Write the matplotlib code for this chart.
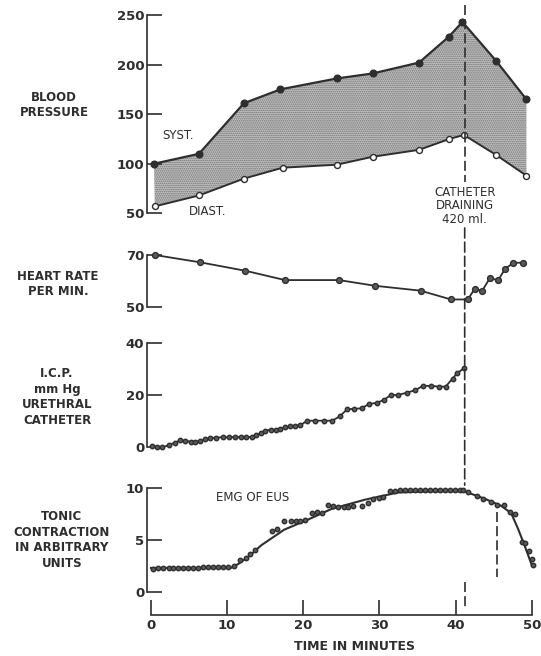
import numpy as np
import matplotlib
matplotlib.use("Agg")
import matplotlib.pyplot as plt
from matplotlib.patches import ConnectionPatch

# -------------------------------
# Data (time in minutes)
# -------------------------------
syst_t = [0.4, 6.3, 12.2, 17.0, 24.4, 29.1, 35.2, 39.1, 40.9, 45.3, 49.3]
syst_p = [100, 110, 161, 175, 186, 191, 202, 228, 243, 204, 165]
diast_t = [0.5, 6.3, 12.2, 17.3, 24.4, 29.1, 35.2, 39.2, 41.1, 45.3, 49.3]
diast_p = [57, 68, 85, 96, 99, 107, 114, 125, 129, 109, 88]

hr_t = [0.5, 6.4, 12.4, 17.6, 24.7, 29.4, 35.4, 39.4, 41.6, 42.5, 43.5,
        44.5, 45.6, 46.5, 47.6, 48.8]
hr_v = [70, 67.2, 63.9, 60.3, 60.3, 58.1, 56.2, 52.8, 52.8, 56.8, 56.2,
        61.0, 60.3, 64.6, 67.0, 67.0]

icp_t = [0.1, 0.75, 1.5, 2.3, 3.1, 3.8, 4.5, 5.2, 5.8, 6.5, 7.1, 7.8, 8.6,
         9.4, 10.2, 11.0, 11.8, 12.5, 13.2, 13.8, 14.4, 15.0, 15.7, 16.4,
         17.0, 17.6, 18.3, 18.9, 19.6, 20.5, 21.6, 22.7, 23.8, 24.8, 25.8,
         26.6, 27.7, 28.6, 29.7, 30.6, 31.5, 32.5, 33.6, 34.7, 35.7, 36.8,
         37.8, 38.7, 39.6, 40.2, 41.1]
icp_v = [0.3, 0.0, -0.3, 0.6, 1.5, 2.4, 2.3, 1.9, 1.8, 2.2, 2.8, 3.4, 3.5,
         3.6, 3.6, 3.7, 3.8, 3.6, 3.8, 4.4, 5.1, 6.2, 6.5, 6.6, 7.0, 7.4,
         7.8, 8.1, 8.2, 10.0, 10.0, 10.0, 10.0, 11.7, 14.5, 14.5, 14.8,
         16.4, 16.9, 18.0, 19.9, 19.9, 20.8, 21.7, 23.4, 23.4, 23.1, 23.1,
         26.2, 28.2, 30.2]

tonic_t = [0.3, 0.95, 1.6, 2.3, 2.9, 3.6, 4.2, 4.9, 5.5, 6.2, 6.8, 7.5, 8.1,
           8.8, 9.4, 10.1, 10.9, 11.7, 12.5, 13.0, 13.7, 15.9, 16.5, 17.5,
           18.4, 19.0, 19.6, 20.2, 21.2, 21.8, 22.4, 23.3, 23.9, 24.5, 25.3,
           25.9, 26.5, 27.7, 28.5, 29.2, 29.9, 30.5, 31.4, 32.0, 32.7, 33.4,
           34.0, 34.7, 35.3, 36.0, 36.6, 37.3, 38.0, 38.6, 39.3, 39.9, 40.6,
           41.0, 41.7, 42.8, 43.6, 44.7, 45.4, 46.3, 47.1, 47.8, 48.7, 49.1,
           49.6, 50.0, 50.2]
tonic_v = [2.2, 2.3, 2.3, 2.3, 2.3, 2.3, 2.3, 2.3, 2.3, 2.3, 2.4, 2.4, 2.4,
           2.4, 2.4, 2.4, 2.5, 3.1, 3.3, 3.6, 4.0, 5.9, 6.1, 6.8, 6.8, 6.8,
           6.8, 6.9, 7.6, 7.7, 7.6, 8.4, 8.3, 8.2, 8.2, 8.2, 8.3, 8.3, 8.6,
           9.0, 9.1, 9.2, 9.7, 9.7, 9.8, 9.8, 9.8, 9.8, 9.8, 9.8, 9.8, 9.8,
           9.8, 9.8, 9.8, 9.8, 9.8, 9.8, 9.6, 9.3, 9.0, 8.7, 8.4, 8.4, 7.7,
           7.5, 4.8, 4.7, 3.9, 3.2, 2.6]

# smooth trend drawn through the EMG points
trend_t = [0.0, 10.5, 11.5, 13.0, 14.5, 16.1, 17.5, 20.4, 23.7, 28.1, 32.5,
           36.9, 41.2, 43.8, 46.0, 47.3, 48.2, 49.1, 50.0]
trend_v = [2.3, 2.3, 2.7, 3.5, 4.5, 5.3, 6.0, 6.9, 8.0, 8.9, 9.6, 9.7, 9.7,
           9.0, 8.3, 7.6, 6.1, 4.4, 2.6]

drain_time = 41.2
second_mark = 45.5

# -------------------------------
# Style
# -------------------------------
INK = "#2e2e2e"
plt.rcParams["font.family"] = ["DejaVu Sans"]
plt.rcParams["hatch.linewidth"] = 0.8
plt.rcParams["hatch.color"] = "#6f6f6f"
TICK_FONT = dict(fontsize=9.5, fontweight="bold", color=INK)
DASH = (0, (6, 2.5))

W, H = 541, 656
fig = plt.figure(figsize=(W / 100, H / 100), dpi=100)


def px_axes(top, bottom):
    # axes box from pixel rows; x spans -0.5..50.5 minutes
    left, width = 147.2, 388.3
    return fig.add_axes([left / W, (H - bottom) / H, width / W, (bottom - top) / H])


def style(ax, yticks):
    for s in ["top", "right", "bottom"]:
        ax.spines[s].set_visible(False)
    ax.spines["left"].set_color(INK)
    ax.spines["left"].set_linewidth(1.2)
    ax.set_xlim(-0.5, 50.5)
    ax.set_xticks([])
    ax.set_yticks(yticks)
    ax.set_yticklabels([str(v) for v in yticks], **TICK_FONT)
    ax.tick_params(axis="y", direction="in", length=10.8, width=1.2,
                   color=INK, pad=2)
    ax.patch.set_alpha(0)


def left_label(x, y, text):
    fig.text(x / W, 1 - y / H, text, ha="center", va="center",
             fontsize=8.5, fontweight="bold", color=INK, linespacing=1.25)


# -------------------------------
# Blood pressure
# -------------------------------
ax_bp = px_axes(15, 213.3)
style(ax_bp, [50, 100, 150, 200, 250])
ax_bp.set_ylim(50, 250)
ax_bp.fill(np.concatenate([syst_t, diast_t[::-1]]),
           np.concatenate([syst_p, diast_p[::-1]]),
           facecolor="#c4c4c4", hatch="........", linewidth=0, zorder=1)
ax_bp.plot(syst_t, syst_p, "-o", color=INK, lw=1.6, ms=4.8,
           mfc=INK, mec=INK, clip_on=False, zorder=3)
ax_bp.plot(diast_t, diast_p, "-o", color=INK, lw=1.4, ms=4.3,
           mfc="white", mec=INK, mew=1.0, clip_on=False, zorder=3)
ax_bp.text(3.5, 128, "SYST.", fontsize=8.5, color=INK, ha="center", va="center")
ax_bp.text(7.4, 52, "DIAST.", fontsize=8.5, color=INK, ha="center", va="center")
ax_bp.text(drain_time, 78, "CATHETER\nDRAINING\n420 ml.", fontsize=8.5,
           color=INK, ha="center", va="top", linespacing=1.05)
ax_bp.plot([drain_time, drain_time], [260, 82], color=INK, lw=1.2,
           linestyle=DASH, clip_on=False, zorder=4)
left_label(54, 105, "BLOOD\nPRESSURE")

# -------------------------------
# Heart rate
# -------------------------------
ax_hr = px_axes(255, 306.7)
style(ax_hr, [50, 70])
ax_hr.set_ylim(50, 70)
ax_hr.plot(hr_t, hr_v, "-o", color=INK, lw=1.3, ms=4.2, mfc="#5a5a5a",
           mec=INK, clip_on=False, zorder=3)
left_label(58, 284, "HEART RATE\nPER MIN.")

# -------------------------------
# Intracavernous / urethral pressure
# -------------------------------
ax_icp = px_axes(342.7, 446.7)
style(ax_icp, [0, 20, 40])
ax_icp.set_ylim(0, 40)
ax_icp.plot(icp_t, icp_v, "-o", color=INK, lw=1.3, ms=3.2, mfc="#5a5a5a",
            mec=INK, clip_on=False, zorder=3)
left_label(57, 397, "I.C.P.\nmm Hg\nURETHRAL\nCATHETER")

# -------------------------------
# Tonic contraction
# -------------------------------
ax_tn = px_axes(488.3, 591.7)
style(ax_tn, [0, 5, 10])
ax_tn.set_ylim(0, 10)
ax_tn.plot(trend_t, trend_v, "-", color=INK, lw=1.5, clip_on=False, zorder=2)
ax_tn.plot(tonic_t, tonic_v, "o", ms=3.2, mfc="#5a5a5a", mec=INK,
           clip_on=False, zorder=3)
ax_tn.text(13.3, 9.15, "EMG OF EUS", fontsize=8.5, color=INK,
           ha="center", va="center")

ax_tn.spines["bottom"].set_visible(True)
ax_tn.spines["bottom"].set_position(("outward", 16.8))
ax_tn.spines["bottom"].set_bounds(0, 50)
ax_tn.spines["bottom"].set_color(INK)
ax_tn.spines["bottom"].set_linewidth(1.2)
ax_tn.set_xticks([0, 10, 20, 30, 40, 50])
ax_tn.set_xticklabels(["0", "10", "20", "30", "40", "50"], **TICK_FONT)
ax_tn.tick_params(axis="x", direction="in", length=10.8, width=1.2,
                  color=INK, pad=3)
left_label(62, 540, "TONIC\nCONTRACTION\nIN ARBITRARY\nUNITS")
fig.text(354 / W, 1 - 647 / H, "TIME IN MINUTES", ha="center", va="center",
         fontsize=9, fontweight="bold", color=INK)

# catheter drain marker running down through the lower panels
link = ConnectionPatch(xyA=(drain_time, 35.2), coordsA=ax_bp.transData,
                       xyB=(drain_time, 10.3), coordsB=ax_tn.transData,
                       color=INK, lw=1.2, linestyle=DASH, zorder=5)
fig.add_artist(link)
ax_tn.plot([drain_time, drain_time], [0.95, -1.8], color=INK, lw=1.2,
           linestyle=DASH, clip_on=False)
ax_tn.plot([second_mark, second_mark], [7.7, 1.45], color=INK, lw=1.2,
           linestyle=DASH, clip_on=False)

fig.savefig("out.png", dpi=100)
